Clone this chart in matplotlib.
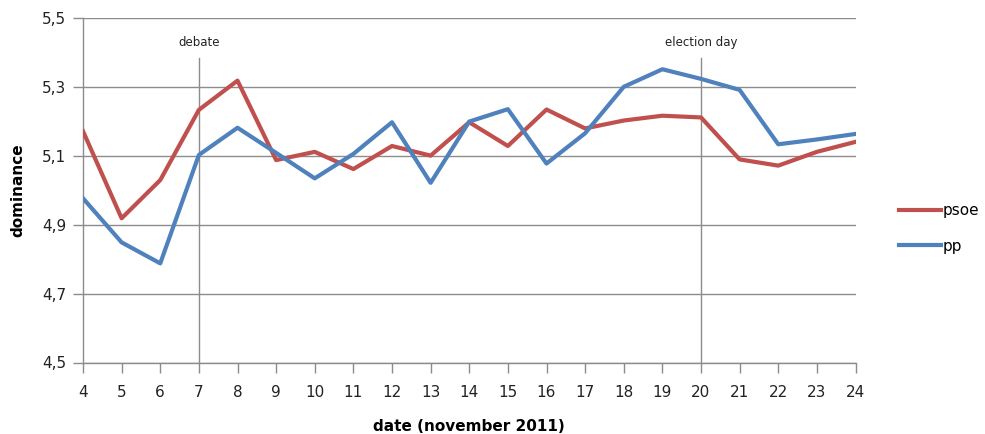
import matplotlib
matplotlib.use("Agg")
import matplotlib.pyplot as plt
from matplotlib.ticker import FuncFormatter

days = list(range(4, 25))
psoe = [5.172, 4.919, 5.030, 5.234, 5.319, 5.088, 5.112, 5.062, 5.129, 5.101, 5.198,
        5.129, 5.235, 5.180, 5.203, 5.217, 5.212, 5.090, 5.072, 5.112, 5.141]
pp = [4.977, 4.849, 4.788, 5.103, 5.182, 5.109, 5.035, 5.106, 5.198, 5.022, 5.200,
      5.236, 5.078, 5.166, 5.301, 5.352, 5.324, 5.292, 5.134, 5.148, 5.164]
events = [(7, "debate"), (20, "election day")]
y_ticks = [4.5, 4.7, 4.9, 5.1, 5.3, 5.5]

plt.rcParams["font.family"] = "DejaVu Sans"
fig = plt.figure(figsize=(9.85, 4.34), dpi=100)
ax = fig.add_axes([83 / 985, 1 - 362.5 / 434, (855.5 - 83) / 985, (362.5 - 18.3) / 434])

grid_c = "#8c8c8c"
text_c = "#222222"
ax.set_xlim(4, 24)
ax.set_ylim(4.5, 5.5)
ax.set_yticks(y_ticks)
ax.set_xticks(days)
ax.yaxis.set_major_formatter(FuncFormatter(lambda v, p: f"{v:.1f}".replace(".", ",")))
ax.grid(axis="y", color=grid_c, linewidth=1)
ax.set_axisbelow(True)
for s in ("top", "right"):
    ax.spines[s].set_visible(False)
for s in ("left", "bottom"):
    ax.spines[s].set_color(grid_c)
    ax.spines[s].set_linewidth(1)
ax.tick_params(axis="both", color=grid_c, length=7, width=1, labelsize=11, labelcolor=text_c)
ax.tick_params(axis="x", pad=9)
ax.tick_params(axis="y", pad=5)

# event markers
for d, label in events:
    ax.plot([d, d], [4.5, 5.385], color=grid_c, linewidth=1, zorder=1)
    ax.text(d, 5.431, label, ha="center", va="center", fontsize=8.5, color=text_c)

ax.plot(days, psoe, color="#C0504D", linewidth=3, label="psoe", zorder=3)
ax.plot(days, pp, color="#4F81BD", linewidth=3, label="pp", zorder=3)

ax.set_ylabel("dominance", fontsize=11, fontweight="bold", labelpad=12)
ax.set_xlabel("date (november 2011)", fontsize=11, fontweight="bold", labelpad=14)

leg = ax.legend(loc="center left", bbox_to_anchor=(1.038, 0.39), frameon=False,
                fontsize=11, handlelength=2.8, handletextpad=0.05, labelspacing=1.35)

fig.savefig("out.png", dpi=100)
